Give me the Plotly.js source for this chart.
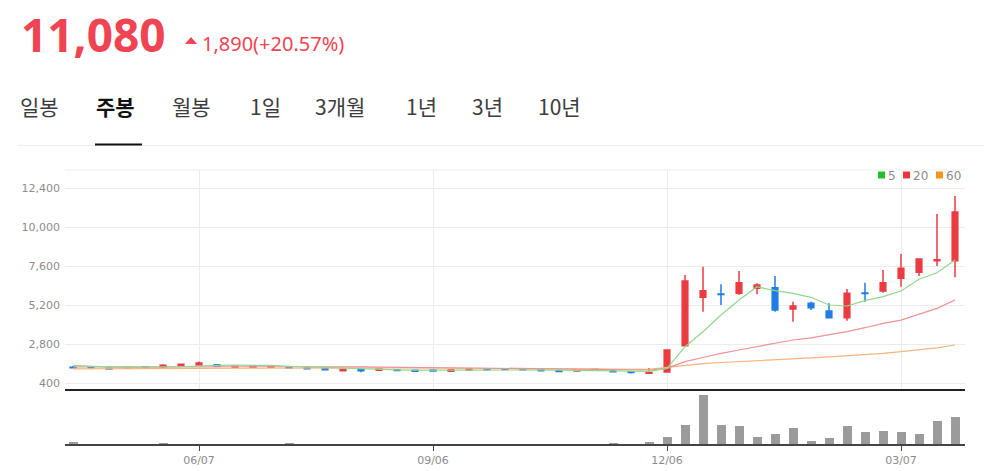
<!DOCTYPE html>
<html><head><meta charset="utf-8">
<script src="https://cdn.plot.ly/plotly-3.0.1.min.js"></script>
<style>html,body{margin:0;padding:0;background:#fff;overflow:hidden}#chart{width:984px;height:471px}</style>
</head><body><div id="chart"></div>
<script>
const dates = ['2021-04-19','2021-04-26','2021-05-03','2021-05-10','2021-05-17','2021-05-24','2021-05-31','2021-06-07','2021-06-14','2021-06-21','2021-06-28','2021-07-05','2021-07-12','2021-07-19','2021-07-26','2021-08-02','2021-08-09','2021-08-16','2021-08-23','2021-08-30','2021-09-06','2021-09-13','2021-09-20','2021-09-27','2021-10-04','2021-10-11','2021-10-18','2021-10-25','2021-11-01','2021-11-08','2021-11-15','2021-11-22','2021-11-29','2021-12-06','2021-12-13','2021-12-20','2021-12-27','2022-01-03','2022-01-10','2022-01-17','2022-01-24','2022-01-31','2022-02-07','2022-02-14','2022-02-21','2022-02-28','2022-03-07','2022-03-14','2022-03-21','2022-03-28'];
const openP  = [1400,1430,1350,1330,1410,1390,1470,1540,1560,1410,1410,1410,1420,1360,1300,1180,1240,1220,1250,1210,1230,1160,1230,1290,1300,1290,1230,1190,1170,1230,1220,1130,1030,1100,2720,5700,5900,5945,6250,6290,4980,5330,4860,4445,5960,6090,6870,7240,7950,7950];
const highP  = [1470,1440,1360,1400,1420,1580,1600,1760,1580,1490,1490,1500,1430,1380,1310,1300,1260,1320,1260,1220,1240,1270,1330,1340,1340,1320,1240,1200,1260,1300,1260,1150,1350,2460,7070,7580,6500,7320,6560,7010,5430,5430,5330,6210,6600,7380,8360,8100,10820,11930];
const lowP   = [1320,1350,1280,1320,1340,1380,1460,1520,1440,1400,1400,1400,1320,1260,1220,1160,1090,1200,1190,1140,1160,1140,1220,1220,1250,1220,1180,1130,1160,1220,1100,1010,1020,1100,2700,4810,5230,5840,5880,4810,4200,4920,4440,4260,5430,5980,6350,7010,7620,6930];
const closeP = [1370,1370,1290,1380,1360,1520,1580,1660,1460,1460,1470,1460,1360,1300,1240,1280,1180,1290,1200,1150,1170,1250,1290,1240,1260,1240,1190,1140,1220,1280,1120,1080,1080,2460,6700,6100,5870,6600,6460,4920,5160,5060,4445,5945,5930,6600,7480,8050,8000,10950];
const volume = [5,1,1,1,1,4,1,1,1,1,1,1,3,1,1,1,1,1,1,1,1,1,1,1,1,1,1,1,1,1,3,1,5,21,59,150,57,55,21,30,48,9,18,54,36,39,36,30,72,82];
const ma5  = [1520,1460,1410,1390,1380,1400,1430,1480,1520,1530,1530,1510,1460,1420,1380,1340,1290,1260,1240,1220,1210,1200,1210,1220,1230,1250,1240,1220,1200,1200,1190,1170,1150,1330,2660,3585,4610,5530,6350,6105,5945,5700,5226,5165,5490,5740,6087,6806,7212,7993];
const ma20 = [1420,1415,1410,1405,1400,1400,1405,1415,1425,1430,1435,1440,1440,1440,1435,1430,1420,1410,1400,1390,1375,1360,1345,1330,1315,1300,1290,1280,1270,1260,1250,1240,1230,1335,1740,2000,2256,2460,2660,2870,3075,3210,3380,3585,3830,4100,4300,4650,5020,5530];
const ma60 = [1300,1305,1310,1320,1330,1340,1345,1350,1355,1360,1365,1370,1370,1375,1375,1375,1370,1370,1365,1360,1355,1350,1345,1340,1335,1330,1320,1310,1300,1290,1280,1275,1270,1395,1520,1620,1690,1740,1790,1840,1890,1970,2040,2100,2170,2250,2355,2460,2590,2767];
const yTickVals = [400,2800,5200,7600,10000,12400];
const yTickText = ['400','2,800','5,200','7,600','10,000','12,400'];
const xTickVals = ['2021-06-07','2021-09-06','2021-12-06','2022-03-07'];
const xTickText = ['06/07','09/06','12/06','03/07'];
const tabs = ['일봉','주봉','월봉','1일','3개월','1년','3년','10년'];
const legendNames = ['5','20','60'];
const priceText = '11,080';
const changeText = '1,890(+20.57%)';

const W = 984, H = 471;
const px = x => x / W, py = y => 1 - y / H;
const RED = '#ec3a41', BLUE = '#1e7de4', HEAD = '#f04452';

const traces = [
  {type:'candlestick', x:dates, open:openP, high:highP, low:lowP, close:closeP, xaxis:'x', yaxis:'y',
   increasing:{line:{color:RED, width:1.5}, fillcolor:RED},
   decreasing:{line:{color:BLUE, width:1.5}, fillcolor:BLUE}, showlegend:false, hoverinfo:'skip'},
  {type:'scatter', mode:'lines', x:dates, y:ma60, line:{color:'#f6b47e', width:1.2}, xaxis:'x', yaxis:'y', showlegend:false, hoverinfo:'skip'},
  {type:'scatter', mode:'lines', x:dates, y:ma20, line:{color:'#f29196', width:1.2}, xaxis:'x', yaxis:'y', showlegend:false, hoverinfo:'skip'},
  {type:'scatter', mode:'lines', x:dates, y:ma5, line:{color:'#8fd98a', width:1.2}, xaxis:'x', yaxis:'y', showlegend:false, hoverinfo:'skip'},
  {type:'bar', x:dates, y:volume, xaxis:'x2', yaxis:'y2', marker:{color:'#9b9b9b'}, width:3.5*86400000, showlegend:false, hoverinfo:'skip'}
];

const xr = ['2021-04-15 21:20','2022-03-31 21:20'];
const tickFont = {family:'DejaVu Sans, sans-serif', size:11, color:'#8c8c8c'};

const annotations = [];
annotations.push({text:'<b>'+priceText+'</b>', x:px(19), y:py(34), xref:'paper', yref:'paper', xanchor:'left', yanchor:'middle', showarrow:false, font:{family:'Noto Sans, sans-serif', size:46, color:HEAD}});
annotations.push({text:changeText, x:px(200), y:py(44), xref:'paper', yref:'paper', xanchor:'left', yanchor:'middle', showarrow:false, font:{family:'Noto Sans, sans-serif', size:20, color:HEAD}});
const tabX = [20,96,172,250,315,406,472,538];
tabs.forEach((t,i)=>{
  annotations.push({text: i===1 ? '<b>'+t+'</b>' : t, x:px(tabX[i]-2), y:py(106), xref:'paper', yref:'paper', xanchor:'left', yanchor:'middle', showarrow:false,
    font:{family:'Noto Sans CJK KR, sans-serif', size:21, color: i===1 ? '#111' : '#3c3c3c'}});
});
const legColors = ['#22c02a','#f0343c','#f7931e'];
const legSq = [878, 903, 936];
legendNames.forEach((n,i)=>{
  annotations.push({text:n, x:px(legSq[i]+8), y:py(175.5), xref:'paper', yref:'paper', xanchor:'left', yanchor:'middle', showarrow:false,
    font:{family:'DejaVu Sans, sans-serif', size:12, color:'#8c8c8c'}});
});

const shapes = [];
shapes.push({type:'path', xref:'paper', yref:'paper', path:`M${px(185)},${py(44)} L${px(191)},${py(37)} L${px(197)},${py(44)} Z`, fillcolor:HEAD, line:{width:0}});
shapes.push({type:'line', xref:'paper', yref:'paper', x0:px(18), x1:px(984), y0:py(145.5), y1:py(145.5), line:{color:'#eeeeee', width:1}});
shapes.push({type:'line', xref:'paper', yref:'paper', x0:px(95), x1:px(142), y0:py(144.5), y1:py(144.5), line:{color:'#111', width:2}});
shapes.push({type:'line', xref:'paper', yref:'paper', x0:px(65), x1:px(965), y0:py(170), y1:py(170), line:{color:'#eeeeee', width:1}});
legendNames.forEach((n,i)=>{
  shapes.push({type:'rect', xref:'paper', yref:'paper', x0:px(legSq[i]), x1:px(legSq[i]+7), y0:py(178.5), y1:py(171.5), fillcolor:legColors[i], line:{width:0}});
});

const layout = {
  width:W, height:H, margin:{l:0,r:0,t:0,b:0}, paper_bgcolor:'#fff', plot_bgcolor:'#fff',
  showlegend:false, boxgap:0.55, bargap:0,
  xaxis:{type:'date', domain:[px(65), px(965)], range:xr, anchor:'y', tickvals:xTickVals, showticklabels:false,
    showgrid:true, gridcolor:'#ececec', gridwidth:1, ticks:'', showline:true, linecolor:'#222', linewidth:2,
    rangeslider:{visible:false}, fixedrange:true},
  yaxis:{domain:[py(389), py(170)], range:[62, 13525], tickvals:yTickVals, ticktext:yTickText, tickfont:tickFont,
    showgrid:true, gridcolor:'#ececec', zeroline:false, ticks:'', ticklabelstandoff:4, showline:false, fixedrange:true},
  xaxis2:{type:'date', domain:[px(65), px(965)], range:xr, anchor:'y2', matches:'x', tickvals:xTickVals, ticktext:xTickText, tickfont:tickFont,
    showgrid:false, ticks:'outside', ticklen:5, tickcolor:'#444', tickwidth:1, showline:true, linecolor:'#444', linewidth:2, fixedrange:true},
  yaxis2:{domain:[py(444), py(389)], range:[0,169], showticklabels:false, showgrid:false, zeroline:false, ticks:'', fixedrange:true},
  annotations:annotations, shapes:shapes
};
Plotly.newPlot('chart', traces, layout, {staticPlot:true, displayModeBar:false});
</script></body></html>
